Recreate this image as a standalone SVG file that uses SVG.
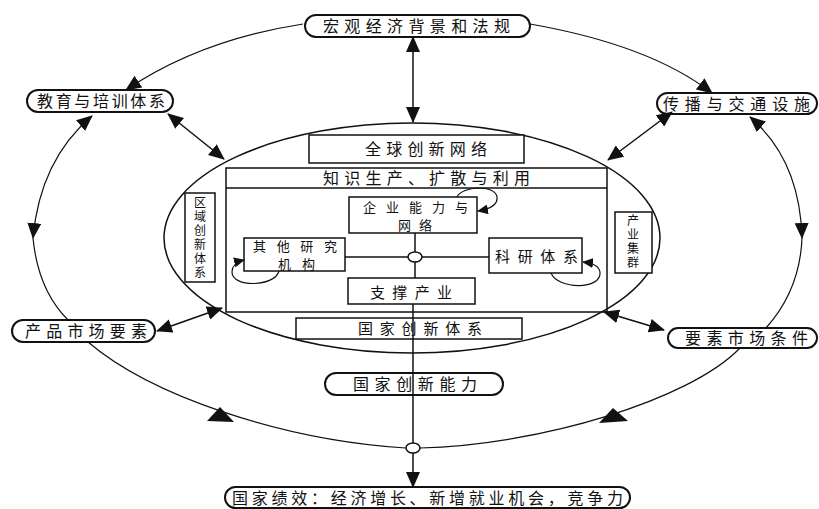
<svg xmlns="http://www.w3.org/2000/svg" width="819" height="509" viewBox="0 0 819 509">
<style>
  .bg { fill: #ffffff; }
  .pill { fill: #ffffff; stroke: #111; stroke-width: 2; }
  .box { fill: #ffffff; stroke: #111; stroke-width: 1.5; }
  .frame { fill: none; stroke: #111; stroke-width: 1.5; }
  .line { fill: none; stroke: #111; stroke-width: 1.5; }
  .thin { fill: none; stroke: #111; stroke-width: 1.2; }
  .head { fill: #111; stroke: none; }
  text { font-family: "Noto Sans CJK SC", "Noto Sans", sans-serif; fill: #111; font-size: 16px; }
  .s15 { font-size: 15px; }
  .s13 { font-size: 13px; }
  .vtext { font-size: 12px; writing-mode: vertical-rl; letter-spacing: 2px; }
</style>
<defs>
  <marker id="ah" markerUnits="userSpaceOnUse" markerWidth="16" markerHeight="14" refX="15" refY="7" orient="auto-start-reverse" viewBox="0 0 16 14">
    <path d="M0,0 L16,7 L0,14 z" fill="#111"/>
  </marker>
  <marker id="ahs" markerUnits="userSpaceOnUse" markerWidth="11" markerHeight="10" refX="10" refY="5" orient="auto" viewBox="0 0 11 10">
    <path d="M0,0 L11,5 L0,10 z" fill="#111"/>
  </marker>
</defs>
<rect class="bg" x="0" y="0" width="819" height="509"/>

<!-- inner system container -->
<g id="container">
  <ellipse class="frame" cx="412" cy="238" rx="248" ry="115"/>
  <rect class="frame" x="226" y="168" width="381" height="144"/>
  <line class="frame" x1="226" y1="188" x2="607" y2="188"/>
</g>

<g id="node-macro">
  <rect class="pill" x="305" y="15" width="225" height="22" rx="11"/>
  <text x="323" y="32" textLength="187">宏观经济背景和法规</text>
</g>
<g id="node-education">
  <rect class="pill" x="27" y="90" width="146" height="22" rx="11"/>
  <text x="37" y="107" textLength="128">教育与培训体系</text>
</g>
<g id="node-transport">
  <rect class="pill" x="657" y="93" width="160" height="21" rx="10.5"/>
  <text x="663" y="110" textLength="147">传播与交通设施</text>
</g>
<g id="node-product">
  <rect class="pill" x="12" y="320" width="143" height="22" rx="11"/>
  <text x="25" y="337" textLength="122">产品市场要素</text>
</g>
<g id="node-factor">
  <rect class="pill" x="668" y="328" width="149" height="20" rx="10"/>
  <text x="685" y="344" textLength="123">要素市场条件</text>
</g>
<g id="node-global">
  <rect class="box" x="309" y="135" width="215" height="28"/>
  <text x="365" y="155" textLength="122">全球创新网络</text>
</g>
<g id="node-knowledge">
  <text x="323" y="184" textLength="207">知识生产、扩散与利用</text>
</g>
<g id="node-regional">
  <rect class="box" x="185" y="193" width="30" height="89"/>
  <text class="vtext" x="200" y="196">区域创新体系</text>
</g>
<g id="node-cluster">
  <rect class="box" x="615" y="212" width="37" height="61"/>
  <text class="vtext" x="633" y="214">产业集群</text>
</g>
<g id="node-firm">
  <rect class="box" x="349" y="197" width="128" height="36"/>
  <text class="s13"><tspan x="363" y="212" textLength="105">企业能力与</tspan><tspan x="398" y="230" textLength="34">网络</tspan></text>
</g>
<g id="node-other">
  <rect class="box" x="244" y="238" width="101" height="33"/>
  <text class="s13"><tspan x="253" y="251" textLength="84">其他研究</tspan><tspan x="278" y="269" textLength="37">机构</tspan></text>
</g>
<g id="node-research">
  <rect class="box" x="489" y="238" width="93" height="35"/>
  <text class="s15" x="495" y="262" textLength="83">科研体系</text>
</g>
<g id="node-support">
  <rect class="box" x="348" y="278" width="127" height="26"/>
  <text class="s15" x="370" y="298" textLength="82">支撑产业</text>
</g>
<g id="node-nis">
  <rect class="box" x="296" y="318" width="226" height="21"/>
  <text class="s15" x="358" y="334" textLength="124">国家创新体系</text>
</g>
<g id="node-capacity">
  <rect class="pill" x="325" y="373" width="178" height="22" rx="11"/>
  <text x="353" y="390" textLength="124">国家创新能力</text>
</g>
<g id="node-performance">
  <rect class="pill" x="225" y="487" width="405" height="21" rx="10.5"/>
  <text x="232" y="504" textLength="391">国家绩效：经济增长、新增就业机会，竞争力</text>
</g>

<g id="connectors">
  <!-- outer ring -->
  <path class="thin" d="M303,24 Q200,40 126,90" marker-end="url(#ah)"/>
  <path class="thin" d="M530,24 Q650,45 712,93" marker-end="url(#ah)"/>
  <path class="thin" d="M92,116 Q40,160 33,238" marker-start="url(#ah)" marker-end="url(#ah)"/>
  <path class="thin" d="M33,238 Q38,290 68,320"/>
  <path class="thin" d="M750,117 Q800,160 802,238" marker-start="url(#ah)" marker-end="url(#ah)"/>
  <path class="thin" d="M802,238 Q800,290 766,328"/>
  <path class="thin" d="M88,342 C150,395 280,440 406,448"/>
  <polygon class="head" points="207,421 234,422 220,407"/>
  <path class="thin" d="M740,348 C690,400 540,445 420,448"/>
  <polygon class="head" points="599,423 628,421 613,408"/>
  <!-- double-headed links to the system -->
  <line class="line" x1="413" y1="37" x2="413" y2="122" marker-start="url(#ah)" marker-end="url(#ah)"/>
  <line class="line" x1="168" y1="114" x2="224" y2="159" marker-start="url(#ah)" marker-end="url(#ah)"/>
  <line class="line" x1="672" y1="112" x2="608" y2="160" marker-start="url(#ah)" marker-end="url(#ah)"/>
  <line class="line" x1="157" y1="331" x2="222" y2="308" marker-start="url(#ah)" marker-end="url(#ah)"/>
  <line class="line" x1="604" y1="312" x2="664" y2="330" marker-start="url(#ah)" marker-end="url(#ah)"/>
  <!-- hub -->
  <line class="line" x1="345" y1="257" x2="489" y2="257"/>
  <line class="line" x1="415" y1="233" x2="415" y2="278"/>
  <ellipse class="box" cx="415" cy="257" rx="7" ry="5"/>
  <!-- vertical output line -->
  <line class="line" x1="413" y1="304" x2="413" y2="443"/>
  <ellipse class="box" cx="413" cy="448" rx="7" ry="5"/>
  <line class="line" x1="413" y1="453" x2="413" y2="487" marker-end="url(#ah)"/>
  <!-- self loops -->
  <path class="thin" d="M457,197 C462,186 495,184 497,197 C498,205 490,209 478,211" marker-end="url(#ahs)"/>
  <path class="thin" d="M279,271 C275,287 232,288 232,272 C232,266 236,262 244,260" marker-end="url(#ahs)"/>
  <path class="thin" d="M551,273 C558,290 602,290 600,272 C599,266 593,263 583,262" marker-end="url(#ahs)"/>
</g>
</svg>
